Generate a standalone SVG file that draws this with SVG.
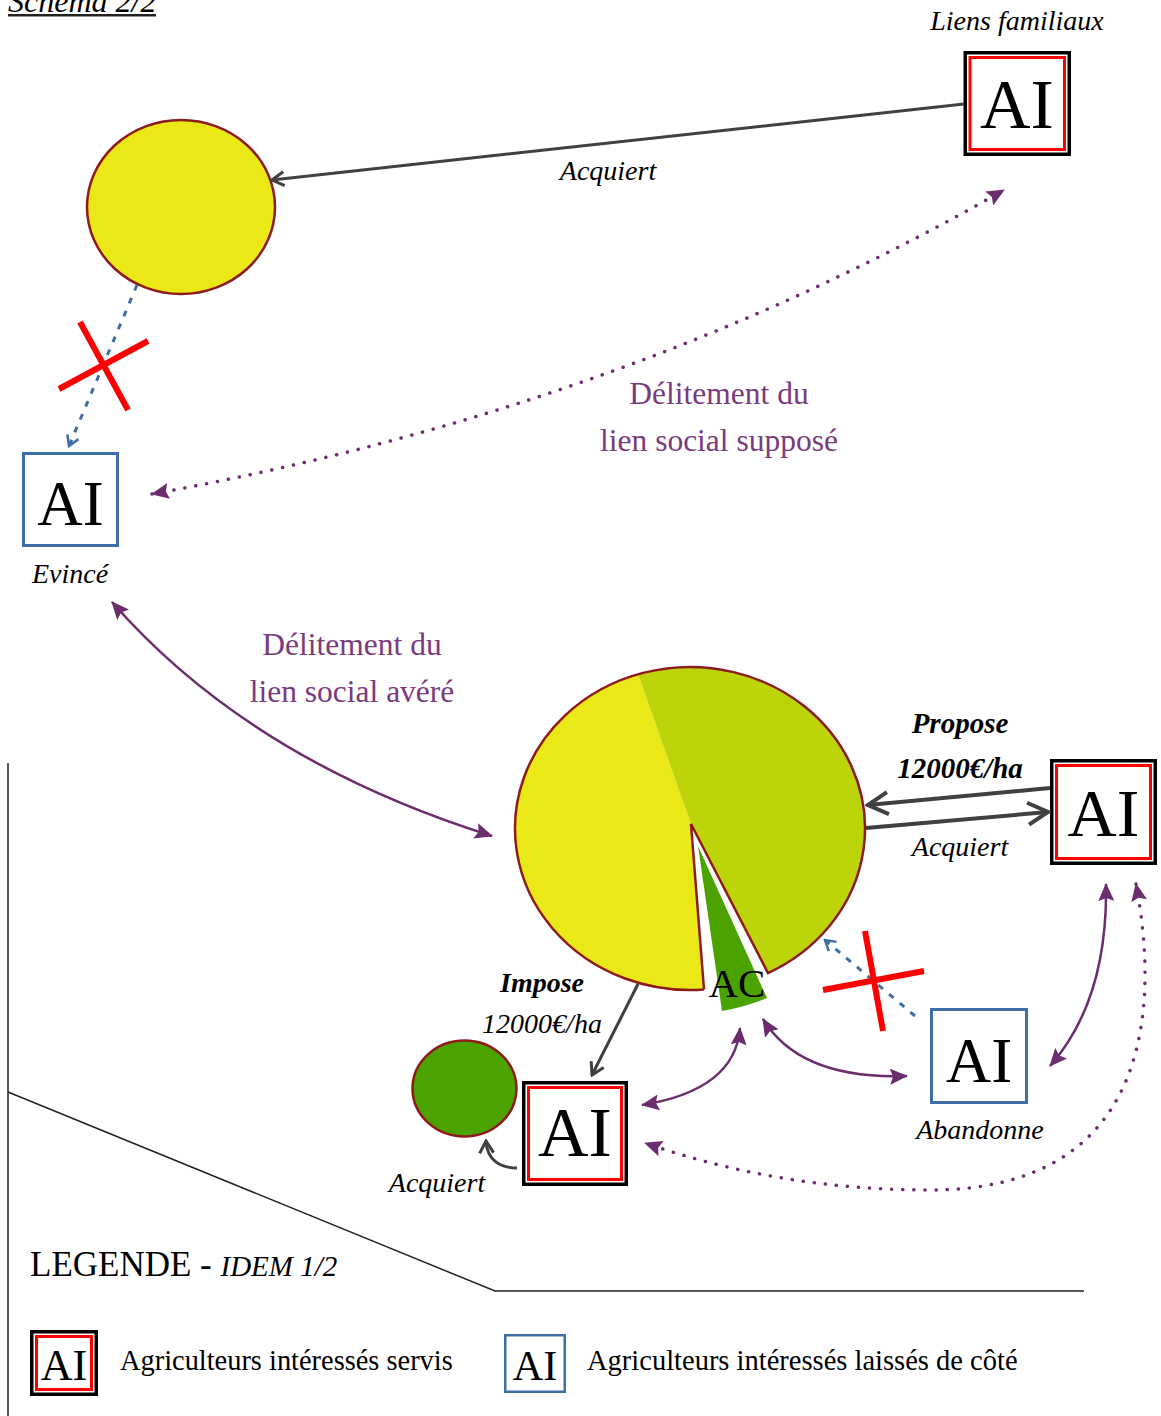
<svg xmlns="http://www.w3.org/2000/svg" width="1161" height="1416" viewBox="0 0 1161 1416">
<defs>
<style>
text{font-family:"Liberation Serif","Times New Roman",serif;fill:#000}
.it{font-style:italic}
.bi{font-style:italic;font-weight:bold;text-anchor:middle}
.ai{text-anchor:middle}
.lbl{font-size:28px;font-style:italic;text-anchor:middle}
.pur{fill:#7A3A7E;font-size:31.5px;text-anchor:middle}
.bk{fill:#fff;stroke:#000;stroke-width:3.5}
.rd{fill:none;stroke:#FF0000;stroke-width:3}
.bl{fill:#fff;stroke:#3D6FA6;stroke-width:3}
.gl{fill:none;stroke:#404040;stroke-width:3}
.gl4{fill:none;stroke:#404040;stroke-width:4}
.pl{fill:none;stroke:#6B2D6E;stroke-width:2.5}
.pd{fill:none;stroke:#6B2D6E;stroke-width:3.5;stroke-linecap:round;stroke-dasharray:0.1 11}
.bd{fill:none;stroke:#3D6FA6;stroke-width:3;stroke-dasharray:6 8}
.x{stroke:#FF0000;stroke-width:6}
.sep{fill:none;stroke:#222;stroke-width:1.5}
.ol{fill:none;stroke:#8E1B1B;stroke-width:2.5}
</style>
<marker id="mg" viewBox="0 0 16 18" refX="14" refY="9" markerWidth="16" markerHeight="18" markerUnits="userSpaceOnUse" orient="auto"><path d="M2,2 L14,9 L2,16" fill="none" stroke="#404040" stroke-width="3"/></marker>
<marker id="mg2" viewBox="0 0 26 28" refX="23" refY="14" markerWidth="26" markerHeight="28" markerUnits="userSpaceOnUse" orient="auto"><path d="M3,3 L23,14 L3,25" fill="none" stroke="#404040" stroke-width="4"/></marker>
<marker id="mb" viewBox="0 0 14 16" refX="12" refY="8" markerWidth="14" markerHeight="16" markerUnits="userSpaceOnUse" orient="auto"><path d="M2,2 L12,8 L2,14" fill="none" stroke="#3D6FA6" stroke-width="2.5"/></marker>
<marker id="mp" viewBox="0 0 18 16" refX="17" refY="8" markerWidth="18" markerHeight="16" markerUnits="userSpaceOnUse" orient="auto-start-reverse"><path d="M0,0 L18,8 L0,16 L3,8 Z" fill="#6B2D6E"/></marker>
</defs>
<rect width="1161" height="1416" fill="#fff"/>

<g id="title">
<text x="8" y="12" class="it" font-size="32">Schéma 2/2</text>
<line x1="8" y1="15.3" x2="156" y2="15.3" stroke="#222" stroke-width="2.5"/>
</g>

<g id="separators">
<line class="sep" x1="8" y1="763" x2="8" y2="1416"/>
<polyline class="sep" points="8,1092 495,1291 1084,1291"/>
</g>

<g id="parcelle-haut">
<ellipse cx="181" cy="207" rx="94" ry="87" fill="#EAE816" stroke="#8E1B1B" stroke-width="2.5"/>
</g>

<g id="pie">
<path d="M691,824 L638,674.3 A175,161.5 0 0,0 704,989.48 Z" fill="#EAE816"/>
<path d="M691,824 L638,674.3 A175,161.5 0 0,1 768,973.07 Z" fill="#BDD40B"/>
<path class="ol" d="M704,989.48 A175,161.5 0 1,1 768,973.07 L691,824 L704,989.48"/>
<path d="M698,846 L722,1011 Q745,1007 767,998 Z" fill="#4CA300"/>
<text x="737" y="997" font-size="41" class="ai">AC</text>
</g>

<g id="parcelle-verte">
<ellipse cx="464.5" cy="1088.5" rx="52" ry="48" fill="#4CA300" stroke="#8E1B1B" stroke-width="2.5"/>
</g>

<g id="ai-liens">
<rect class="bk" x="965.25" y="52.75" width="104" height="101.5"/>
<rect class="rd" x="970" y="57.5" width="94.5" height="92"/>
<text x="1017" y="128" font-size="70" class="ai">AI</text>
<text x="1017" y="30" class="lbl">Liens familiaux</text>
</g>

<g id="ai-evince">
<rect class="bl" x="23.5" y="453.5" width="94" height="92"/>
<text x="70.5" y="525" font-size="63" class="ai">AI</text>
<text x="70" y="583" class="lbl">Evincé</text>
</g>

<g id="ai-droite">
<rect class="bk" x="1051.75" y="760.75" width="103.5" height="102.5"/>
<rect class="rd" x="1056.5" y="765.5" width="94" height="93"/>
<text x="1103.5" y="836" font-size="68" class="ai">AI</text>
</g>

<g id="ai-bas">
<rect class="bk" x="523.75" y="1082.75" width="102.5" height="101.5"/>
<rect class="rd" x="528.5" y="1087.5" width="93" height="92"/>
<text x="575" y="1156" font-size="70" class="ai">AI</text>
</g>

<g id="ai-abandonne">
<rect class="bl" x="931.5" y="1009.5" width="95" height="93"/>
<text x="979" y="1082" font-size="63" class="ai">AI</text>
<text x="980" y="1139" class="lbl">Abandonne</text>
</g>

<g id="connectors">
<line class="gl" x1="964" y1="104" x2="272" y2="180" marker-end="url(#mg)"/>
<text x="608" y="180" class="lbl">Acquiert</text>

<line class="bd" x1="137" y1="285" x2="69" y2="446" marker-end="url(#mb)"/>
<line class="x" x1="80" y1="322" x2="128" y2="410"/>
<line class="x" x1="59" y1="389" x2="148" y2="341"/>

<path class="pd" d="M152,494 Q620,410 1004,190" marker-start="url(#mp)" marker-end="url(#mp)"/>
<text x="719" y="404" class="pur">Délitement du</text>
<text x="719" y="451" class="pur">lien social supposé</text>

<path class="pl" d="M112,602 Q250,760 492,836" marker-start="url(#mp)" marker-end="url(#mp)"/>
<text x="352" y="655" class="pur">Délitement du</text>
<text x="352" y="702" class="pur">lien social avéré</text>

<line class="gl4" x1="1050" y1="788" x2="868" y2="805" marker-end="url(#mg2)"/>
<line class="gl4" x1="866" y1="828" x2="1048" y2="812" marker-end="url(#mg2)"/>
<text x="960" y="733" font-size="29" class="bi">Propose</text>
<text x="960" y="778" font-size="29" class="bi">12000€/ha</text>
<text x="960" y="856" class="lbl">Acquiert</text>

<line class="gl" x1="638" y1="984" x2="592" y2="1075" marker-end="url(#mg)"/>
<text x="542" y="992" font-size="28" class="bi">Impose</text>
<text x="542" y="1033" class="lbl">12000€/ha</text>

<path class="gl" d="M517,1168 C500,1168 487,1160 486,1141" marker-end="url(#mg)"/>
<text x="437" y="1192" class="lbl">Acquiert</text>

<line class="bd" x1="915" y1="1016" x2="825" y2="940" marker-end="url(#mb)"/>
<line class="x" x1="865" y1="931" x2="883" y2="1031"/>
<line class="x" x1="823" y1="990" x2="924" y2="971"/>

<path class="pl" d="M642,1105 Q735,1090 740,1028" marker-start="url(#mp)" marker-end="url(#mp)"/>
<path class="pl" d="M763,1019 Q800,1080 907,1076" marker-start="url(#mp)" marker-end="url(#mp)"/>
<path class="pl" d="M1106,884 Q1108,1000 1050,1066" marker-start="url(#mp)" marker-end="url(#mp)"/>
<path class="pd" d="M1136,884 C1160,1010 1150,1190 930,1190 Q780,1190 645,1143" marker-start="url(#mp)" marker-end="url(#mp)"/>
</g>

<g id="legende">
<text x="30" y="1276" font-size="35">LEGENDE - <tspan class="it" font-size="29">IDEM 1/2</tspan></text>
<rect class="bk" x="31.75" y="1331.75" width="64.5" height="62.5"/>
<rect class="rd" x="36.5" y="1336.5" width="55" height="53"/>
<text x="64" y="1380" font-size="44" class="ai">AI</text>
<text x="120" y="1370" font-size="28.4">Agriculteurs intéressés servis</text>
<rect x="505.25" y="1335.25" width="59.5" height="56.5" fill="#fff" stroke="#3D6FA6" stroke-width="2.5"/>
<text x="535" y="1380" font-size="42" class="ai">AI</text>
<text x="587" y="1370" font-size="28.5">Agriculteurs intéressés laissés de côté</text>
</g>
</svg>
